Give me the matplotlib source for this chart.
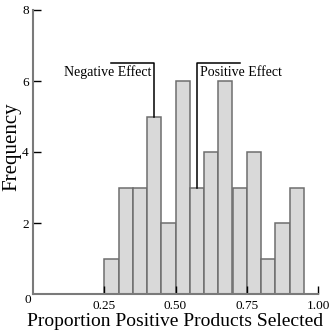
"""Histogram of proportion of positive products selected, with effect brackets."""

import numpy as np
import matplotlib.pyplot as plt

# ============================================================
# Data
# ============================================================
bin_edges = [0.25, 0.30, 0.35, 0.40, 0.45, 0.50, 0.55, 0.60,
             0.65, 0.70, 0.75, 0.80, 0.85, 0.90, 0.95]
counts = [1, 3, 3, 5, 2, 6, 3, 4, 6, 3, 4, 1, 2, 3]

x_ticks = [0.25, 0.50, 0.75, 1.00]
x_tick_labels = ["0.25", "0.50", "0.75", "1.00"]
y_ticks = [2, 4, 6, 8]

# bracket annotations: x span and (top, bottom) of the vertical
neg_bracket_x = [0.275, 0.425]
neg_bracket_y = [6.5, 5]
pos_bracket_x = [0.575, 0.725]
pos_bracket_y = [6.5, 3]

# ============================================================
# Plot
# ============================================================
plt.rcParams['font.family'] = ['Liberation Serif', 'DejaVu Serif']

fig = plt.figure(figsize=(3.32, 3.36), dpi=100)
ax = fig.add_axes([33 / 332, 42 / 336, 285 / 332, 284 / 336])

lefts = np.array(bin_edges[:-1])
widths = np.diff(bin_edges)
ax.bar(lefts, counts, width=widths, align="edge",
       color="#d9d9d9", edgecolor="#6e6e6e", linewidth=1.1)

# Negative effect bracket
ax.plot([neg_bracket_x[0], neg_bracket_x[1], neg_bracket_x[1]],
        [neg_bracket_y[0], neg_bracket_y[0], neg_bracket_y[1]],
        color="black", lw=1.1)
ax.text(neg_bracket_x[1] - 0.008, 6.25, "Negative Effect",
        ha="right", va="center", fontsize=10)

# Positive effect bracket
ax.plot([pos_bracket_x[0], pos_bracket_x[0], pos_bracket_x[1]],
        [pos_bracket_y[1], pos_bracket_y[0], pos_bracket_y[0]],
        color="black", lw=1.1)
ax.text(pos_bracket_x[0] + 0.01, 6.25, "Positive Effect",
        ha="left", va="center", fontsize=10)

ax.set_xlim(0, 1.0)
ax.set_ylim(0, 8)

ax.set_xticks(x_ticks)
ax.set_xticklabels(x_tick_labels)
ax.set_yticks(y_ticks)

# shared origin label
ax.text(-0.018, -0.17, "0", ha="center", va="center", fontsize=9.5)

for s in ["top", "right"]:
    ax.spines[s].set_visible(False)
for s in ["left", "bottom"]:
    ax.spines[s].set_color("#7a7a7a")
    ax.spines[s].set_linewidth(1.5)

ax.tick_params(axis="both", direction="in", length=6, width=1,
               color="black", labelsize=9.5, pad=3)
ax.tick_params(axis="x", pad=4)

ax.set_xlabel("Proportion Positive Products Selected", fontsize=14, labelpad=1)
ax.set_ylabel("Frequency", fontsize=15)
ax.yaxis.set_label_coords(-0.04, 0.52)

plt.savefig("out.png", dpi=100)
plt.close(fig)
